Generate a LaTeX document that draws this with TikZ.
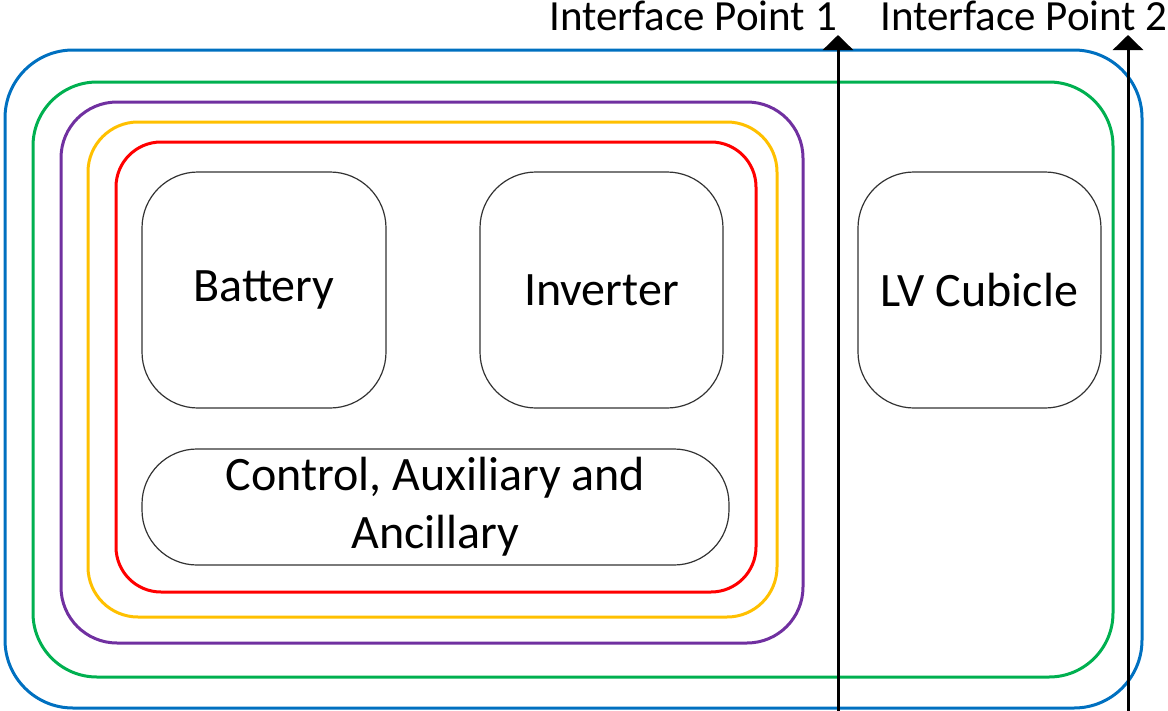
\documentclass[tikz,border=0pt]{standalone}
\usepackage{fontspec}
\setmainfont{Carlito}
\usetikzlibrary{arrows.meta}
\definecolor{zblue}{HTML}{0070C0}
\definecolor{zgreen}{HTML}{00B050}
\definecolor{zpurple}{HTML}{7030A0}
\definecolor{zyellow}{HTML}{FFC000}
\definecolor{zred}{HTML}{FF0000}
\tikzset{
  zone/.style={draw=#1, line width=3pt, rectangle, inner sep=0pt, outer sep=0pt},
  unit/.style={draw=black!80, line width=1.2pt, rectangle, inner sep=0pt, outer sep=0pt,
    rounded corners=56pt, font=\fontsize{48}{58}\selectfont, align=center},
  iface/.style={line width=3pt, -{Triangle[width=30pt,length=15pt]}},
  ilabel/.style={font=\fontsize{43}{52}\selectfont, inner sep=0pt}
}
\begin{document}
\begin{tikzpicture}[x=1pt,y=-1pt]
\useasboundingbox (0,0) rectangle (1168,710);
% nested boundaries
\node[zone=zblue, rounded corners=68pt, minimum width=1137pt, minimum height=658pt] (site) at (573.5,379) {};
\node[zone=zgreen, rounded corners=64pt, minimum width=1080pt, minimum height=595pt] (plant) at (573,379.5) {};
\node[zone=zpurple, rounded corners=56pt, minimum width=742pt, minimum height=541pt] (system) at (432,372.5) {};
\node[zone=zyellow, rounded corners=50pt, minimum width=689pt, minimum height=495pt] (enclosure) at (432.5,369.5) {};
\node[zone=zred, rounded corners=45pt, minimum width=640pt, minimum height=450pt] (core) at (436,367) {};
% equipment
\node[unit, minimum width=244pt, minimum height=236pt] (battery) at (264,290) {Battery};
\node[unit, minimum width=243pt, minimum height=236pt] (inverter) at (601.5,290) {Inverter};
\node[unit, minimum width=243pt, minimum height=236pt] (lv) at (979.5,290) {LV Cubicle};
\node[unit, rounded corners=55pt, minimum width=587pt, minimum height=116pt] (control) at (435.5,507) {Control, Auxiliary and\\Ancillary};
% interface points
\coordinate (ip1b) at (838,712);
\coordinate (ip1t) at (838,35);
\coordinate (ip2b) at (1128,712);
\coordinate (ip2t) at (1128,35);
\draw[iface] (ip1b) -- (ip1t);
\draw[iface] (ip2b) -- (ip2t);
\node[ilabel, anchor=base east] (ip1) at (837,30) {Interface Point 1};
\node[ilabel, anchor=base west] (ip2) at (880,30) {Interface Point 2};
\end{tikzpicture}
\end{document}
